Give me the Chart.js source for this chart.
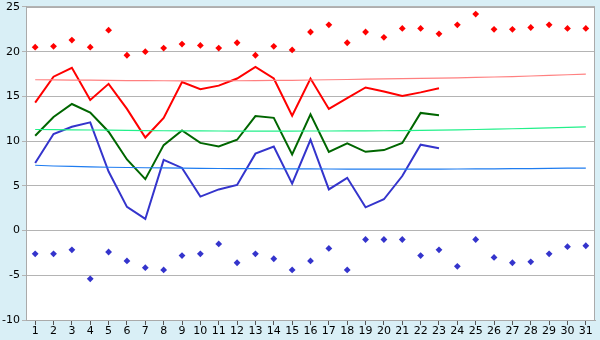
<!DOCTYPE html>
<html>
<head>
<meta charset="utf-8">
<script src="https://cdn.jsdelivr.net/npm/chart.js@4/dist/chart.umd.min.js"></script>
<style>
html,body{margin:0;padding:0;background:#d9eff6;}
canvas{display:block;}
</style>
</head>
<body>
<canvas id="c" width="600" height="340"></canvas>
<script>
const days = ['1','2','3','4','5','6','7','8','9','10','11','12','13','14','15','16','17','18','19','20','21','22','23','24','25','26','27','28','29','30','31'];
const dayMax  = [14.3,17.2,18.2,14.6,16.4,13.6,10.4,12.6,16.6,15.8,16.2,17.0,18.3,17.0,12.85,17.0,13.6,14.8,16.0,15.55,15.05,15.45,15.9];
const dayMean = [10.6,12.7,14.15,13.2,11.05,7.95,5.75,9.55,11.2,9.8,9.4,10.15,12.8,12.6,8.5,13.0,8.8,9.75,8.8,9.0,9.8,13.15,12.9];
const dayMin  = [7.55,10.8,11.6,12.1,6.6,2.65,1.3,7.9,7.0,3.8,4.6,5.1,8.6,9.4,5.25,10.15,4.6,5.9,2.6,3.5,6.1,9.6,9.2];
const recordMax = [20.5,20.6,21.3,20.5,22.4,19.6,20.0,20.4,20.85,20.7,20.4,21.0,19.6,20.6,20.2,22.2,23.0,21.0,22.2,21.6,22.6,22.6,22.0,23.0,24.2,22.5,22.5,22.7,23.0,22.6,22.6];
const recordMin = [-2.6,-2.6,-2.15,-5.4,-2.4,-3.4,-4.15,-4.4,-2.8,-2.6,-1.5,-3.6,-2.6,-3.15,-4.4,-3.4,-2.0,-4.4,-1.0,-1.0,-1.0,-2.8,-2.15,-4.0,-1.0,-3.0,-3.6,-3.5,-2.6,-1.8,-1.7];
const normMax  = [16.86,16.84,16.82,16.81,16.79,16.77,16.76,16.75,16.74,16.74,16.74,16.75,16.76,16.78,16.80,16.83,16.86,16.89,16.93,16.96,16.99,17.02,17.05,17.08,17.12,17.17,17.22,17.28,17.35,17.42,17.50];
const normMean = [11.30,11.28,11.26,11.24,11.22,11.20,11.18,11.16,11.15,11.14,11.13,11.12,11.12,11.12,11.12,11.13,11.13,11.14,11.15,11.16,11.18,11.20,11.23,11.26,11.30,11.34,11.38,11.43,11.48,11.54,11.60];
const normMin  = [7.30,7.22,7.17,7.12,7.08,7.05,7.02,7.00,6.98,6.96,6.94,6.93,6.92,6.91,6.90,6.89,6.88,6.87,6.86,6.86,6.86,6.86,6.87,6.88,6.89,6.90,6.92,6.93,6.95,6.97,6.99];
const yTicks = [-10,-5,0,5,10,15,20,25];

const FONT = {family:'"DejaVu Sans", Verdana, sans-serif', size:11};
const YFONT = {family:'"DejaVu Sans", Verdana, sans-serif', size:11, lineHeight:0.9};

const bgPlugin = {
  id:'bg',
  beforeDraw(chart){
    const {ctx, chartArea:a} = chart;
    ctx.save();
    ctx.fillStyle = '#d9eff6';
    ctx.fillRect(0,0,chart.width,chart.height);
    ctx.fillStyle = '#ffffff';
    ctx.fillRect(a.left,a.top,a.right-a.left,a.bottom-a.top);
    ctx.restore();
  },
  afterDraw(chart){
    const {ctx, chartArea:a} = chart;
    ctx.save();
    ctx.strokeStyle = '#aaaaaa';
    ctx.lineWidth = 1;
    ctx.strokeRect(a.left+0.5,a.top+0.5,a.right-a.left-1,a.bottom-a.top);
    ctx.restore();
  }
};

function line(data,color,width){
  return {type:'line',data:data,borderColor:color,backgroundColor:color,borderWidth:width,pointRadius:0,tension:0,fill:false,spanGaps:false};
}
function pts(data,color){
  return {type:'line',data:data,showLine:false,borderColor:color,backgroundColor:color,pointStyle:'rectRot',pointRadius:3.4,pointBorderWidth:0};
}

new Chart(document.getElementById('c'),{
  type:'line',
  data:{
    labels:days,
    datasets:[
      line(normMin,'#1e7cf0',1.2),
      line(normMean,'#22f08a',1.2),
      line(normMax,'#ff8080',1.2),
      line(dayMin,'#3434cc',2),
      line(dayMean,'#006600',2),
      line(dayMax,'#ff0000',2),
      pts(recordMax,'#ff0000'),
      pts(recordMin,'#3434cc')
    ]
  },
  options:{
    responsive:false,
    animation:false,
    events:[],
    layout:{padding:{top:0,right:5,left:0,bottom:0}},
    plugins:{legend:{display:false},tooltip:{enabled:false}},
    scales:{
      x:{
        offset:true,
        grid:{display:true,drawOnChartArea:false,drawTicks:true,tickLength:5,offset:false,color:'#555555'},
        border:{color:'#aaaaaa'},
        ticks:{color:'#000000',font:FONT,padding:0,maxRotation:0,autoSkip:false},
        afterFit(s){s.height=20;}
      },
      y:{
        min:-10,max:25,
        afterBuildTicks(s){s.ticks = yTicks.map(v=>({value:v}));},
        grid:{color:'#b4b4b4',tickLength:4,drawTicks:true},
        border:{color:'#aaaaaa'},
        ticks:{color:'#000000',font:YFONT,padding:2},
        afterFit(s){s.width=26;}
      }
    }
  },
  plugins:[bgPlugin]
});
</script>
</body>
</html>
